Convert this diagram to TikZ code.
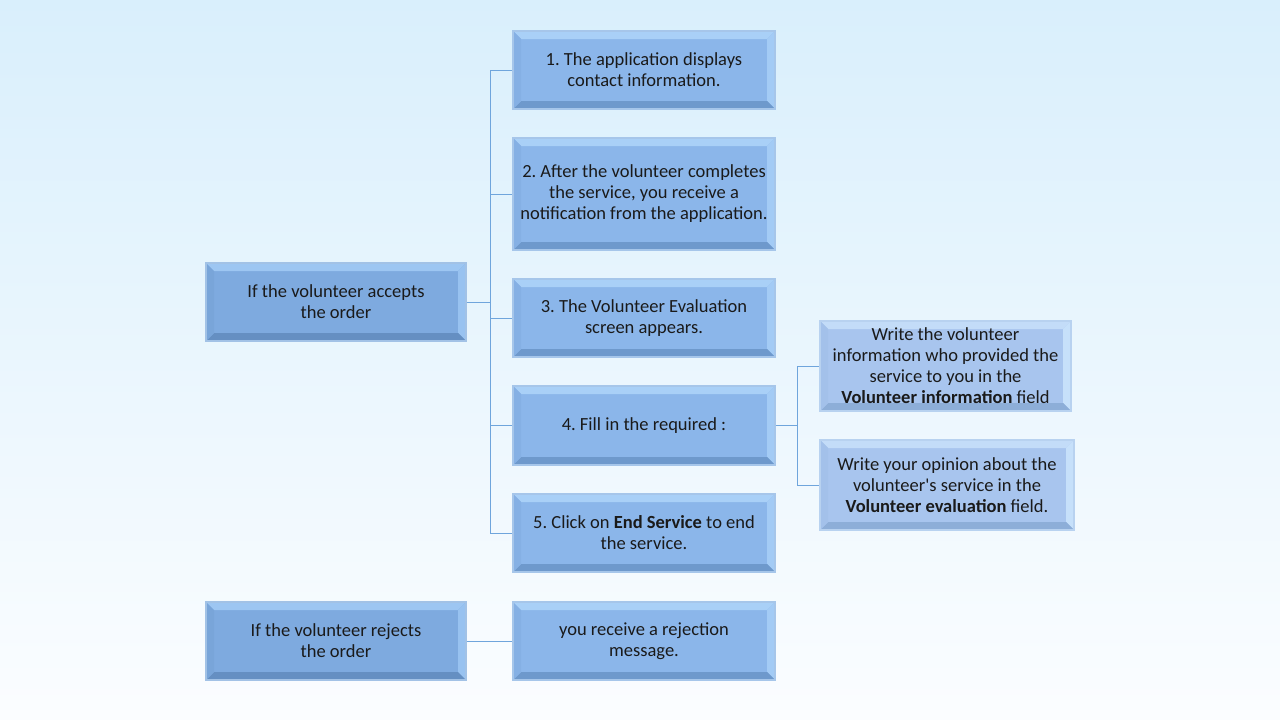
\documentclass[tikz,border=0pt]{standalone}
\usepackage{fontspec}
\setmainfont{Carlito}[Ligatures=TeXOff]
\usetikzlibrary{calc}
\frenchspacing
\definecolor{bgtop}{HTML}{D9EFFC}
\definecolor{bgbot}{HTML}{FBFDFF}
\definecolor{lnk}{HTML}{6FA5DC}
\definecolor{txt}{HTML}{1A1A1A}
% mid boxes
\definecolor{bF}{HTML}{8BB6EA}\definecolor{bT}{HTML}{A9D0F7}\definecolor{bR}{HTML}{A3CBF5}
\definecolor{bB}{HTML}{6E99CC}\definecolor{bL}{HTML}{7AA5DA}\definecolor{bE}{HTML}{A6C6EA}
% left boxes
\definecolor{aF}{HTML}{7EAADF}\definecolor{aT}{HTML}{9DC6F2}\definecolor{aR}{HTML}{98C2F0}
\definecolor{aB}{HTML}{658FC2}\definecolor{aL}{HTML}{7099CE}\definecolor{aE}{HTML}{A2C2E6}
% right boxes
\definecolor{cF}{HTML}{A8C5EE}\definecolor{cT}{HTML}{C3DCF8}\definecolor{cR}{HTML}{C6E0FA}
\definecolor{cB}{HTML}{8DAED8}\definecolor{cL}{HTML}{9BBBE4}\definecolor{cE}{HTML}{B8D2F0}
\tikzset{
  bev/.style n args={5}{fill=#1, draw=#5, line width=1.2pt,
    path picture={
      \def\d{8}
      \coordinate (nw) at (path picture bounding box.north west);
      \coordinate (ne) at (path picture bounding box.north east);
      \coordinate (sw) at (path picture bounding box.south west);
      \coordinate (se) at (path picture bounding box.south east);
      \fill[#2] (nw) -- (ne) -- ([shift={(-\d,\d)}]ne) -- ([shift={(\d,\d)}]nw) -- cycle;
      \fill[#3] (ne) -- (se) -- ([shift={(-\d,-\d)}]se) -- ([shift={(-\d,\d)}]ne) -- cycle;
      \fill[#4] (se) -- (sw) -- ([shift={(\d,-\d)}]sw) -- ([shift={(-\d,-\d)}]se) -- cycle;
      \fill[#1!80!#4] (sw) -- (nw) -- ([shift={(\d,\d)}]nw) -- ([shift={(\d,-\d)}]sw) -- cycle;
    }},
  box/.style={inner sep=0pt, align=center, text=txt,
    font=\fontsize{18.5}{21}\selectfont},
  midbox/.style={box, bev={bF}{bT}{bR}{bB}{bE}, minimum width=262pt},
  leftbox/.style={box, bev={aF}{aT}{aR}{aB}{aE}, minimum width=260pt, minimum height=78pt},
  rightbox/.style={box, bev={cF}{cT}{cR}{cB}{cE}, minimum height=90pt},
  link/.style={draw=lnk, line width=0.9pt},
}
\begin{document}
\begin{tikzpicture}[x=1pt,y=-1pt]
\shade[top color=bgtop, bottom color=bgbot] (0,0) rectangle (1280,720);
\useasboundingbox (0,0) rectangle (1280,720);

\node[leftbox] (acc) at (336,302) {If the volunteer accepts\\the order};
\node[leftbox] (rej) at (336,641) {If the volunteer rejects\\the order};

\node[midbox, minimum height=78pt] (s1) at (644,70) {1. The application displays\\contact information.};
\node[midbox, minimum height=112pt] (s2) at (644,194) {2. After the volunteer completes\\the service, you receive a\\notification from the application.};
\node[midbox, minimum height=78pt] (s3) at (644,318) {3. The Volunteer Evaluation\\screen appears.};
\node[midbox, minimum height=79pt] (s4) at (644,425.5) {4. Fill in the required :};
\node[midbox, minimum height=78pt] (s5) at (644,533) {5. Click on \textbf{End Service} to end\\the service.};
\node[midbox, minimum height=78pt] (rm) at (644,641) {you receive a rejection\\message.};

\node[rightbox, minimum width=251pt] (c1) at (945.5,366) {Write the volunteer\\information who provided the\\service to you in the\\\textbf{Volunteer information} field};
\node[rightbox, minimum width=254pt] (c2) at (947,485) {Write your opinion about the\\volunteer's service in the\\\textbf{Volunteer evaluation} field.};

\coordinate (j1) at (490,302);
\draw[link] (acc.east) -- (j1);
\foreach \s in {s1,s2,s3,s4,s5}{
  \draw[link] (j1) |- (\s.west);
}
\coordinate (j2) at (797,425.5);
\draw[link] (s4.east) -- (j2);
\draw[link] (j2) |- (c1.west);
\draw[link] (j2) |- (c2.west);
\draw[link] (rej.east) -- (rm.west);
\end{tikzpicture}
\end{document}
